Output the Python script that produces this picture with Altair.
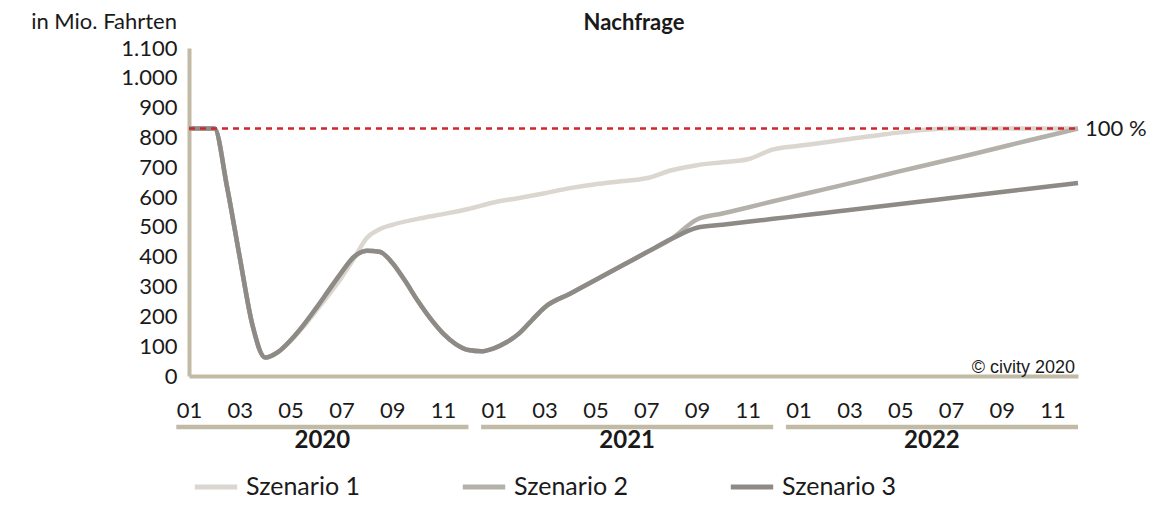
import altair as alt
import pandas as pd

# ---------------- data ----------------
series_names = ["Szenario 1", "Szenario 2", "Szenario 3"]
series_colors = ["#dcd6d0", "#b4b1ab", "#8e8b86"]

# month index: 0 = 01/2020 ... 35 = 12/2022
# Szenario 1
s1_month = [0, 1, 1.5, 2, 2.5, 3, 3.5, 4, 4.5, 5, 5.5, 6, 6.5, 7, 7.5, 8, 9, 10, 11,
            12, 13, 14, 15, 16, 17, 18, 19, 20, 21, 22, 23, 24, 25, 26, 27, 28, 29, 30, 31, 32, 33, 34, 35]
s1_value = [830, 830, 633, 397, 170, 62, 80, 118, 165, 218, 272, 330, 395, 463, 492, 507, 527, 543, 560,
            582, 597, 613, 630, 643, 653, 663, 690, 707, 717, 727, 760, 772, 783, 795, 806, 817, 826, 830,
            830, 830, 830, 830, 830]

# Szenario 2 and 3 share the same path until mid 2021
shared_month = [0, 1, 1.5, 2, 2.5, 3, 3.5, 4, 4.5, 5, 5.5, 6, 6.5, 7, 7.5, 8, 8.5, 9, 9.5,
                10, 10.5, 11, 11.5, 12, 12.5, 13, 13.5, 14, 15, 16, 17, 18, 19]
shared_value = [830, 830, 633, 397, 170, 62, 80, 120, 170, 227, 287, 347, 400, 420, 417, 380, 320, 253, 193,
                143, 107, 87, 83, 93, 113, 143, 187, 230, 276, 322, 368, 414, 460]
tail_month = [20, 21, 22, 23, 24, 25, 26, 27, 28, 29, 30, 31, 32, 33, 34, 35]
s2_tail_value = [525, 545, 565, 586, 606, 626, 646, 666, 687, 707, 727, 747, 768, 789, 809, 830]
s3_tail_value = [497, 507, 517, 527, 537, 547, 557, 567, 577, 587, 597, 607, 617, 627, 637, 647]

full_level = 830          # 100 % level
y_ticks = [0, 100, 200, 300, 400, 500, 600, 700, 800, 900, 1000, 1100]
x_ticks = list(range(0, 36, 2))
years = ["2020", "2021", "2022"]

# ---------------- tables ----------------
rows = []
for m, v in zip(s1_month, s1_value):
    rows.append({"month": m, "value": v, "series": "Szenario 1"})
for m, v in zip(shared_month + tail_month, shared_value + s2_tail_value):
    rows.append({"month": m, "value": v, "series": "Szenario 2"})
for m, v in zip(shared_month + tail_month, shared_value + s3_tail_value):
    rows.append({"month": m, "value": v, "series": "Szenario 3"})
df = pd.DataFrame(rows)
df["order"] = df["series"].map({s: i for i, s in enumerate(series_names)})

year_df = pd.DataFrame({
    "year": years,
    "start": [12 * i - 0.5 for i in range(len(years))],
    "end": [12 * i + 11 for i in range(len(years))],
})
year_df["mid"] = (year_df["start"] + year_df["end"]) / 2

FONT = "Lato"
BEIGE = "#c1baa5"
TXT = "#1a1a1a"

xscale = alt.Scale(domain=[0, 35], nice=False, zero=False)
yscale = alt.Scale(domain=[0, 1100], nice=False, zero=True)

xaxis = alt.Axis(values=x_ticks, title=None, ticks=False, grid=False,
                 labelExpr="(datum.value % 12 + 1 < 10 ? '0' : '') + (datum.value % 12 + 1)",
                 labelBaseline="middle", labelPadding=34, labelFontSize=22,
                 labelFont=FONT, labelColor=TXT, domainColor=BEIGE, domainWidth=4,
                 labelOverlap=False, labelFlush=False)
yaxis = alt.Axis(values=y_ticks, title=None, ticks=False, grid=False,
                 labelExpr="replace(format(datum.value, ','), ',', '.')",
                 labelPadding=12, labelFontSize=22, labelFont=FONT, labelColor=TXT,
                 domainColor=BEIGE, domainWidth=4, labelOverlap=False, labelFlush=False)

lines = alt.Chart(df).mark_line(strokeWidth=4.5, interpolate="monotone").encode(
    x=alt.X("month:Q", scale=xscale, axis=xaxis),
    y=alt.Y("value:Q", scale=yscale, axis=yaxis),
    color=alt.Color("series:N",
                    scale=alt.Scale(domain=series_names, range=series_colors),
                    legend=alt.Legend(title=None, orient="none", legendX=3, legendY=415,
                                      direction="horizontal", symbolType="stroke",
                                      symbolSize=1800, symbolStrokeWidth=5,
                                      labelFontSize=25, labelFont=FONT, labelColor=TXT,
                                      columnPadding=92, labelOffset=6)),
    order=alt.Order("order:Q"),
    detail="series:N",
)

ref_line = alt.Chart(pd.DataFrame({"v": [full_level], "a": [0], "b": [35]})).mark_rule(
    color="#cf262c", strokeWidth=2.5, strokeDash=[6, 5]
).encode(
    x=alt.X("a:Q", scale=xscale, axis=xaxis),
    x2="b:Q",
    y=alt.Y("v:Q", scale=yscale, axis=yaxis),
)

ref_text = alt.Chart(pd.DataFrame({"v": [full_level], "b": [35], "t": ["100 %"]})).mark_text(
    align="left", baseline="middle", dx=7, fontSize=22, font=FONT, color=TXT
).encode(
    x=alt.X("b:Q", scale=xscale, axis=xaxis),
    y=alt.Y("v:Q", scale=yscale, axis=yaxis),
    text="t:N",
)

year_rules = alt.Chart(year_df).mark_rule(color=BEIGE, strokeWidth=4.5).encode(
    x=alt.X("start:Q", scale=xscale, axis=xaxis),
    x2="end:Q",
    y=alt.value(379),
)

year_text = alt.Chart(year_df).mark_text(
    fontSize=24, fontWeight="bold", font=FONT, color=TXT, baseline="middle"
).encode(
    x=alt.X("mid:Q", scale=xscale, axis=xaxis),
    y=alt.value(393),
    text="year:N",
)

title_text = alt.Chart(pd.DataFrame({"t": ["Nachfrage"]})).mark_text(
    fontSize=22, fontWeight="bold", font=FONT, color=TXT, baseline="middle", align="center"
).encode(x=alt.value(445), y=alt.value(-25), text="t:N")

ylab = alt.Chart(pd.DataFrame({"t": ["in Mio. Fahrten"]})).mark_text(
    fontSize=22, font=FONT, color=TXT, baseline="middle", align="right"
).encode(x=alt.value(-12), y=alt.value(-26), text="t:N")

credit = alt.Chart(pd.DataFrame({"t": ["© civity 2020"]})).mark_text(
    fontSize=18, font="Liberation Sans", color=TXT, baseline="middle", align="right"
).encode(x=alt.value(886), y=alt.value(320), text="t:N")

chart = alt.layer(
    lines, ref_line, ref_text, year_rules, year_text, title_text, ylab, credit
).properties(
    width=889, height=328,
    autosize=alt.AutoSizeParams(type="none"),
    padding={"left": 181, "top": 40, "right": 72, "bottom": 124},
    background="white",
).configure_view(stroke=None)

chart.save("out.html", embed_options={"renderer": "svg", "actions": False})
